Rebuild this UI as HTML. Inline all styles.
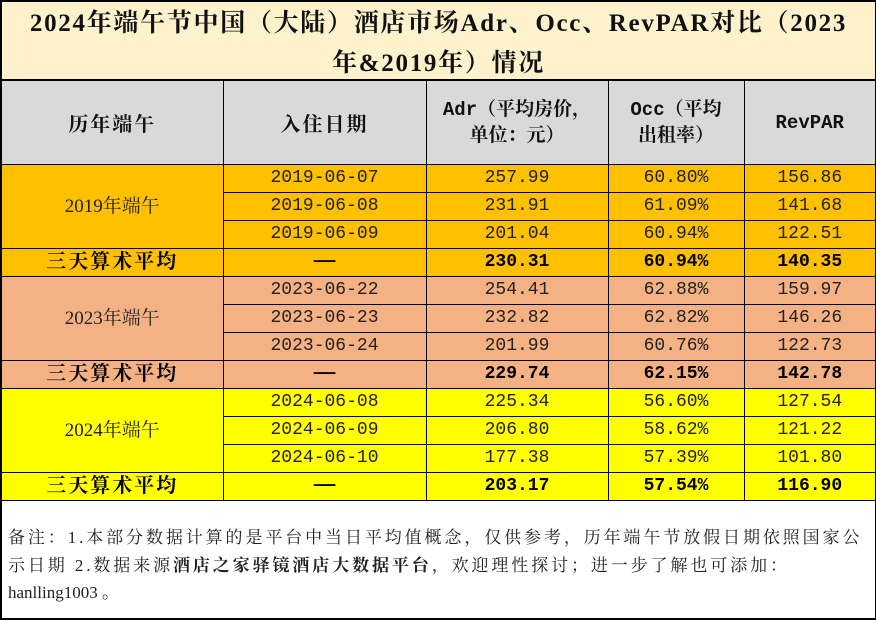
<!DOCTYPE html>
<html><head><meta charset="utf-8"><style>
body{margin:0;width:876px;height:620px;background:#fff;overflow:hidden}
.wrap{position:absolute;left:0;top:0;width:873px;height:616px;border:2px solid #000;box-sizing:content-box}
.title{height:78px;background:#fef2cc;border-bottom:1px solid #000;text-align:center;font:bold 25px/40px "Liberation Serif","Noto Serif CJK SC",serif;letter-spacing:1.7px;color:#111;padding-top:2px;box-sizing:border-box;white-space:nowrap}
table{border-collapse:collapse;table-layout:fixed;width:873px;position:absolute;left:0;top:78px}
td{border:1px solid #000;text-align:center;padding:0;font:18px "Liberation Mono","Noto Serif CJK SC",monospace;color:#222;height:27px;line-height:27px}
td.cn{font-family:"Liberation Serif","Noto Serif CJK SC",serif;font-size:20px;letter-spacing:2px}
tr.h td{background:#d9d9d9;height:83px;font:bold 19px/26px "Liberation Mono","Noto Serif CJK SC",serif;color:#111}
tr.h td.cn{font-family:"Noto Serif CJK SC",serif;font-size:20px}
.b td{font-weight:bold;color:#000}
.a td{background:#ffc000}.c td{background:#f4b183}.y td{background:#ffff00}
td:first-child{border-left:none}td:last-child{border-right:none}
.foot{position:absolute;left:6px;top:522px;width:870px;font:17px/27.5px "Liberation Serif","Noto Serif CJK SC",serif;letter-spacing:2.9px;color:#222;white-space:nowrap}
</style></head><body><div class="wrap">
<div class="title">2024年端午节中国（大陆）酒店市场Adr、Occ、RevPAR对比（2023<br>年&amp;2019年）情况</div>
<table>
<colgroup><col style="width:221px"><col style="width:203px"><col style="width:182px"><col style="width:136px"><col style="width:131px"></colgroup>
<tr class="h"><td class="cn">历年端午</td><td class="cn">入住日期</td><td>Adr（平均房价，<br>单位：元）</td><td>Occ（平均<br>出租率）</td><td>RevPAR</td></tr>
<tr class="a"><td class="cn" rowspan="3" style="font-size:19px;letter-spacing:0">2019年端午</td><td>2019-06-07</td><td>257.99</td><td>60.80%</td><td>156.86</td></tr>
<tr class="a"><td>2019-06-08</td><td>231.91</td><td>61.09%</td><td>141.68</td></tr>
<tr class="a"><td>2019-06-09</td><td>201.04</td><td>60.94%</td><td>122.51</td></tr>
<tr class="a b"><td class="cn">三天算术平均</td><td>——</td><td>230.31</td><td>60.94%</td><td>140.35</td></tr>
<tr class="c"><td class="cn" rowspan="3" style="font-size:19px;letter-spacing:0">2023年端午</td><td>2023-06-22</td><td>254.41</td><td>62.88%</td><td>159.97</td></tr>
<tr class="c"><td>2023-06-23</td><td>232.82</td><td>62.82%</td><td>146.26</td></tr>
<tr class="c"><td>2023-06-24</td><td>201.99</td><td>60.76%</td><td>122.73</td></tr>
<tr class="c b"><td class="cn">三天算术平均</td><td>——</td><td>229.74</td><td>62.15%</td><td>142.78</td></tr>
<tr class="y"><td class="cn" rowspan="3" style="font-size:19px;letter-spacing:0">2024年端午</td><td>2024-06-08</td><td>225.34</td><td>56.60%</td><td>127.54</td></tr>
<tr class="y"><td>2024-06-09</td><td>206.80</td><td>58.62%</td><td>121.22</td></tr>
<tr class="y"><td>2024-06-10</td><td>177.38</td><td>57.39%</td><td>101.80</td></tr>
<tr class="y b"><td class="cn">三天算术平均</td><td>——</td><td>203.17</td><td>57.54%</td><td>116.90</td></tr>
</table>
<div class="foot">备注：1.本部分数据计算的是平台中当日平均值概念，仅供参考，历年端午节放假日期依照国家公<br>示日期 2.数据来源<b>酒店之家驿镜酒店大数据平台</b>，欢迎理性探讨；进一步了解也可添加：<br><span style="letter-spacing:0">hanlling1003 。</span></div>
</div></body></html>
